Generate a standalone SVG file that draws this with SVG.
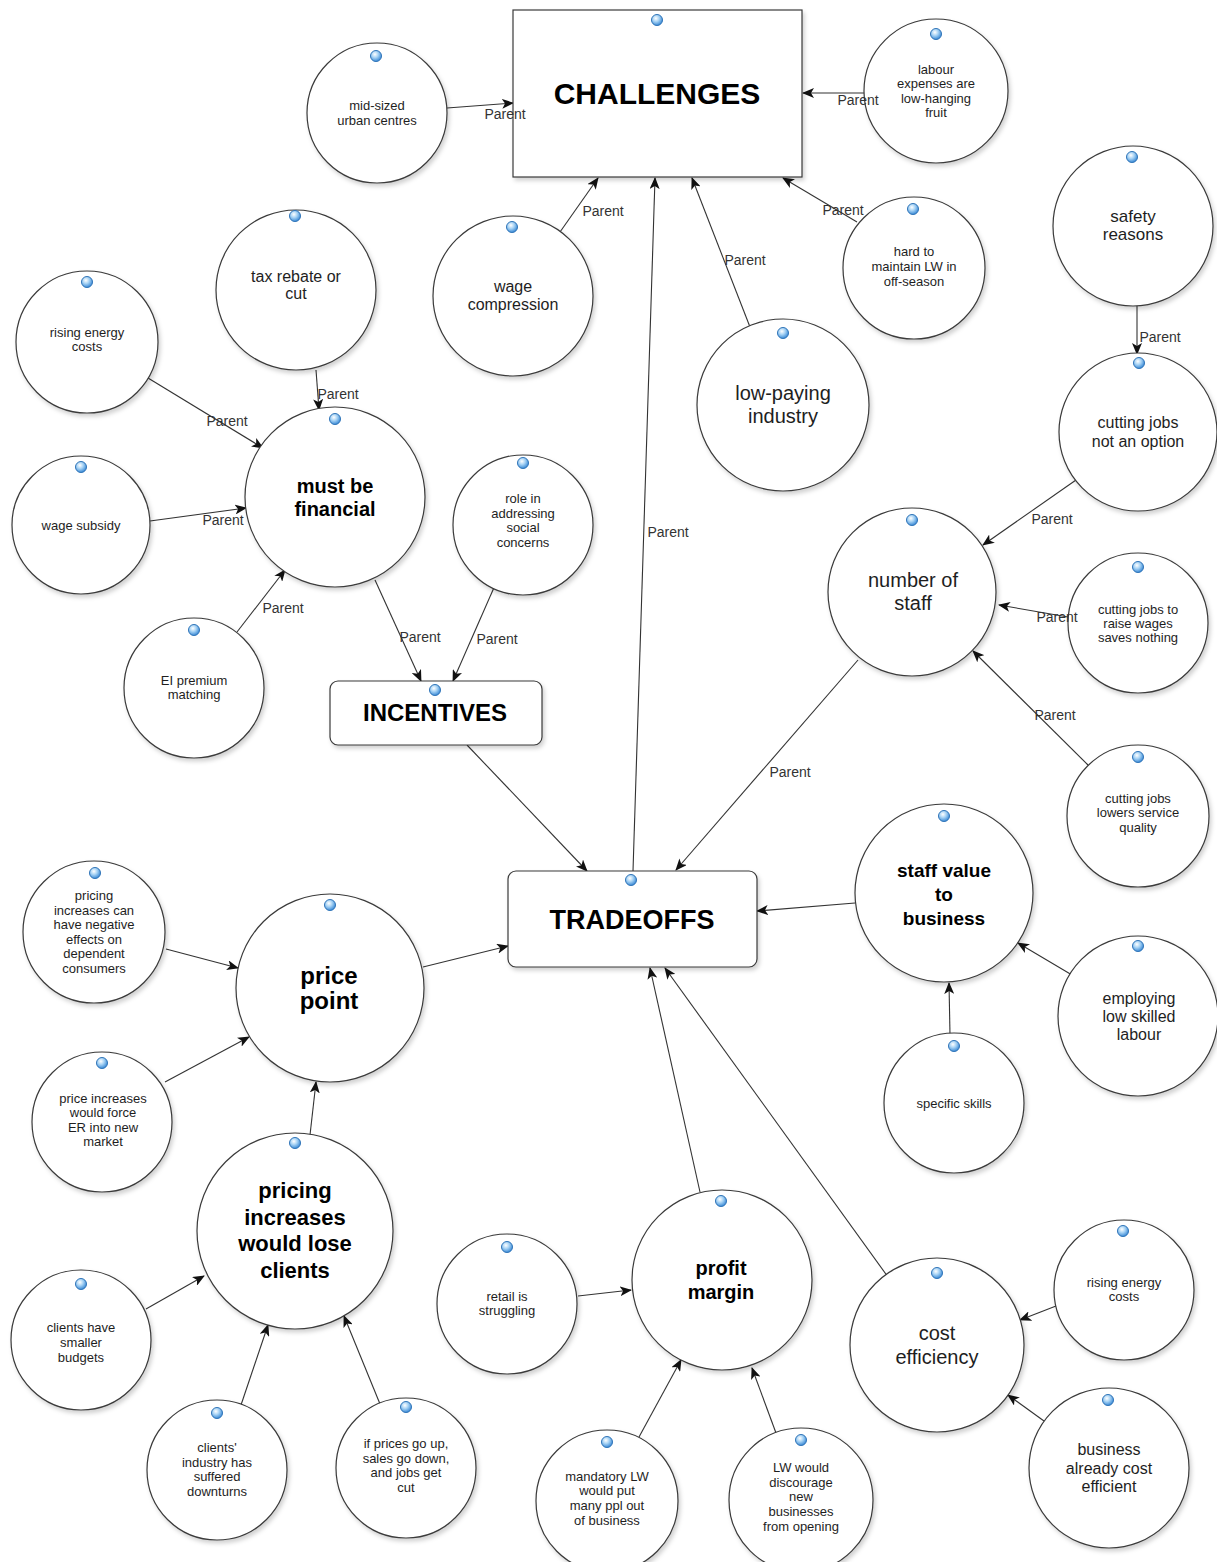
<svg xmlns="http://www.w3.org/2000/svg" width="1217" height="1562" viewBox="0 0 1217 1562">
<defs>
<style>
.n{fill:#fff;stroke:#3a3a3a;stroke-width:1.2;filter:url(#sh)}
.t{font-family:"Liberation Sans",Arial,sans-serif;fill:#1e1e1e;text-anchor:middle}
.s{font-size:13px}
.m{font-size:16px}
.l{font-size:20px}
.b{font-weight:bold;fill:#000}
.e{stroke:#333;stroke-width:1.1;fill:none;marker-end:url(#a)}
.p{font-family:"Liberation Sans",Arial,sans-serif;font-size:14px;fill:#333;text-anchor:middle}
.d{fill:url(#g);stroke:#2f74b8;stroke-width:1}
</style>
<filter id="sh" x="-10%" y="-10%" width="125%" height="125%">
<feDropShadow dx="2" dy="3" stdDeviation="2" flood-color="#000" flood-opacity="0.18"/>
</filter>
<radialGradient id="g" cx="0.4" cy="0.35" r="0.65">
<stop offset="0" stop-color="#ffffff"/>
<stop offset="0.45" stop-color="#a9d4f5"/>
<stop offset="1" stop-color="#3b8ad6"/>
</radialGradient>
<marker id="a" viewBox="0 0 12 10" refX="11" refY="5" markerWidth="12" markerHeight="10" markerUnits="userSpaceOnUse" orient="auto">
<path d="M0,0 L12,5 L0,10 L3,5 z" fill="#111"/>
</marker>
</defs>
<rect width="1217" height="1562" fill="#fff"/>

<g id="connectors">
<line class="e" x1="447" y1="108" x2="513" y2="103"/>
<line class="e" x1="864" y1="93" x2="803" y2="93"/>
<line class="e" x1="857" y1="222" x2="783" y2="178"/>
<line class="e" x1="560" y1="232" x2="598" y2="178"/>
<line class="e" x1="750" y1="327" x2="692" y2="178"/>
<line class="e" x1="633" y1="871" x2="655" y2="178"/>
<line class="e" x1="316" y1="370" x2="319" y2="410"/>
<line class="e" x1="148" y1="378" x2="263" y2="448"/>
<line class="e" x1="150" y1="521" x2="246" y2="508"/>
<line class="e" x1="237" y1="632" x2="285" y2="570"/>
<line class="e" x1="375" y1="580" x2="421" y2="681"/>
<line class="e" x1="496" y1="583" x2="453" y2="681"/>
<line class="e" x1="467" y1="745" x2="587" y2="871"/>
<line class="e" x1="1137" y1="304" x2="1137" y2="354"/>
<line class="e" x1="1076" y1="480" x2="983" y2="545"/>
<line class="e" x1="1068" y1="617" x2="999" y2="605"/>
<line class="e" x1="1088" y1="765" x2="973" y2="651"/>
<line class="e" x1="858" y1="660" x2="676" y2="870"/>
<line class="e" x1="855" y1="903" x2="757" y2="911"/>
<line class="e" x1="1072" y1="975" x2="1018" y2="943"/>
<line class="e" x1="950" y1="1035" x2="949" y2="983"/>
<line class="e" x1="166" y1="949" x2="238" y2="968"/>
<line class="e" x1="165" y1="1082" x2="249" y2="1037"/>
<line class="e" x1="310" y1="1135" x2="316" y2="1082"/>
<line class="e" x1="423" y1="967" x2="508" y2="946"/>
<line class="e" x1="146" y1="1309" x2="204" y2="1276"/>
<line class="e" x1="241" y1="1405" x2="268" y2="1325"/>
<line class="e" x1="380" y1="1404" x2="344" y2="1316"/>
<line class="e" x1="700" y1="1192" x2="650" y2="968"/>
<line class="e" x1="578" y1="1296" x2="631" y2="1290"/>
<line class="e" x1="639" y1="1437" x2="681" y2="1360"/>
<line class="e" x1="776" y1="1433" x2="752" y2="1368"/>
<line class="e" x1="888" y1="1277" x2="665" y2="968"/>
<line class="e" x1="1056" y1="1306" x2="1020" y2="1320"/>
<line class="e" x1="1044" y1="1421" x2="1008" y2="1395"/>
</g>

<g id="n-challenges"><rect class="n" x="513" y="10" width="289" height="167"/><text class="t b" x="657" y="104" font-size="30">CHALLENGES</text><circle class="d" cx="657" cy="20" r="5.5"/></g>
<g id="n-midsized"><circle class="n" cx="377" cy="113" r="70"/><text class="t s"><tspan x="377" y="109.5">mid-sized</tspan><tspan x="377" y="124.5">urban centres</tspan></text><circle class="d" cx="376" cy="56" r="5.5"/></g>
<g id="n-labour"><circle class="n" cx="936" cy="91" r="72"/><text class="t s"><tspan x="936" y="73.5">labour</tspan><tspan x="936" y="88">expenses are</tspan><tspan x="936" y="102.5">low-hanging</tspan><tspan x="936" y="117">fruit</tspan></text><circle class="d" cx="936" cy="34" r="5.5"/></g>
<g id="n-hard"><circle class="n" cx="914" cy="268" r="71"/><text class="t s"><tspan x="914" y="255.5">hard to</tspan><tspan x="914" y="270.5">maintain LW in</tspan><tspan x="914" y="285.5">off-season</tspan></text><circle class="d" cx="913" cy="209" r="5.5"/></g>
<g id="n-safety"><circle class="n" cx="1133" cy="226" r="80"/><text class="t" font-size="17"><tspan x="1133" y="222">safety</tspan><tspan x="1133" y="240">reasons</tspan></text><circle class="d" cx="1132" cy="157" r="5.5"/></g>
<g id="n-wage-compression"><circle class="n" cx="513" cy="296" r="80"/><text class="t m"><tspan x="513" y="292">wage</tspan><tspan x="513" y="310">compression</tspan></text><circle class="d" cx="512" cy="227" r="5.5"/></g>
<g id="n-lowpaying"><circle class="n" cx="783" cy="405" r="86"/><text class="t l"><tspan x="783" y="400">low-paying</tspan><tspan x="783" y="423">industry</tspan></text><circle class="d" cx="783" cy="333" r="5.5"/></g>
<g id="n-tax"><circle class="n" cx="296" cy="290" r="80"/><text class="t m"><tspan x="296" y="282">tax rebate or</tspan><tspan x="296" y="299">cut</tspan></text><circle class="d" cx="295" cy="216" r="5.5"/></g>
<g id="n-energy1"><circle class="n" cx="87" cy="342" r="71"/><text class="t s"><tspan x="87" y="336.5">rising energy</tspan><tspan x="87" y="350.5">costs</tspan></text><circle class="d" cx="87" cy="282" r="5.5"/></g>
<g id="n-financial"><circle class="n" cx="335" cy="497" r="90"/><text class="t l b"><tspan x="335" y="493">must be</tspan><tspan x="335" y="516">financial</tspan></text><circle class="d" cx="335" cy="419" r="5.5"/></g>
<g id="n-subsidy"><circle class="n" cx="81" cy="525" r="69"/><text class="t s" x="81" y="529.5">wage subsidy</text><circle class="d" cx="81" cy="467" r="5.5"/></g>
<g id="n-role"><circle class="n" cx="523" cy="525" r="70"/><text class="t s"><tspan x="523" y="502.5">role in</tspan><tspan x="523" y="517.5">addressing</tspan><tspan x="523" y="531.5">social</tspan><tspan x="523" y="546.5">concerns</tspan></text><circle class="d" cx="523" cy="463" r="5.5"/></g>
<g id="n-ei"><circle class="n" cx="194" cy="688" r="70"/><text class="t s"><tspan x="194" y="684.5">EI premium</tspan><tspan x="194" y="698.5">matching</tspan></text><circle class="d" cx="194" cy="630" r="5.5"/></g>
<g id="n-incentives"><rect class="n" x="330" y="681" width="212" height="64" rx="8"/><text class="t b" x="435" y="720.5" font-size="24">INCENTIVES</text><circle class="d" cx="435" cy="690" r="5.5"/></g>
<g id="n-notoption"><circle class="n" cx="1138" cy="432" r="79"/><text class="t m"><tspan x="1138" y="428">cutting jobs</tspan><tspan x="1138" y="447">not an option</tspan></text><circle class="d" cx="1139" cy="363" r="5.5"/></g>
<g id="n-numstaff"><circle class="n" cx="912" cy="592" r="84"/><text class="t l"><tspan x="913" y="587">number of</tspan><tspan x="913" y="610">staff</tspan></text><circle class="d" cx="912" cy="520" r="5.5"/></g>
<g id="n-savesnothing"><circle class="n" cx="1138" cy="623" r="70"/><text class="t s"><tspan x="1138" y="613.5">cutting jobs to</tspan><tspan x="1138" y="627.5">raise wages</tspan><tspan x="1138" y="641.5">saves nothing</tspan></text><circle class="d" cx="1138" cy="567" r="5.5"/></g>
<g id="n-quality"><circle class="n" cx="1138" cy="816" r="71"/><text class="t s"><tspan x="1138" y="802.5">cutting jobs</tspan><tspan x="1138" y="816.5">lowers service</tspan><tspan x="1138" y="831.5">quality</tspan></text><circle class="d" cx="1138" cy="757" r="5.5"/></g>
<g id="n-staffvalue"><circle class="n" cx="944" cy="893" r="89"/><text class="t b" font-size="19"><tspan x="944" y="877">staff value</tspan><tspan x="944" y="901">to</tspan><tspan x="944" y="925">business</tspan></text><circle class="d" cx="944" cy="816" r="5.5"/></g>
<g id="n-tradeoffs"><rect class="n" x="508" y="871" width="249" height="96" rx="8"/><text class="t b" x="632" y="928.5" font-size="27">TRADEOFFS</text><circle class="d" cx="631" cy="880" r="5.5"/></g>
<g id="n-negative"><circle class="n" cx="94" cy="932" r="71"/><text class="t s"><tspan x="94" y="899.5">pricing</tspan><tspan x="94" y="914.5">increases can</tspan><tspan x="94" y="928.5">have negative</tspan><tspan x="94" y="943.5">effects on</tspan><tspan x="94" y="957.5">dependent</tspan><tspan x="94" y="972.5">consumers</tspan></text><circle class="d" cx="95" cy="873" r="5.5"/></g>
<g id="n-pricepoint"><circle class="n" cx="330" cy="988" r="94"/><text class="t b" font-size="24"><tspan x="329" y="983.5">price</tspan><tspan x="329" y="1008.5">point</tspan></text><circle class="d" cx="330" cy="905" r="5.5"/></g>
<g id="n-force"><circle class="n" cx="102" cy="1122" r="70"/><text class="t s"><tspan x="103" y="1102.5">price increases</tspan><tspan x="103" y="1116.5">would force</tspan><tspan x="103" y="1131.5">ER into new</tspan><tspan x="103" y="1145.5">market</tspan></text><circle class="d" cx="102" cy="1063" r="5.5"/></g>
<g id="n-loseclients"><circle class="n" cx="295" cy="1231" r="98"/><text class="t b" font-size="22"><tspan x="295" y="1198">pricing</tspan><tspan x="295" y="1225">increases</tspan><tspan x="295" y="1251">would lose</tspan><tspan x="295" y="1278">clients</tspan></text><circle class="d" cx="295" cy="1143" r="5.5"/></g>
<g id="n-lowskilled"><circle class="n" cx="1138" cy="1016" r="80"/><text class="t m"><tspan x="1139" y="1004">employing</tspan><tspan x="1139" y="1022">low skilled</tspan><tspan x="1139" y="1040">labour</tspan></text><circle class="d" cx="1138" cy="946" r="5.5"/></g>
<g id="n-specific"><circle class="n" cx="954" cy="1103" r="70"/><text class="t s" x="954" y="1107.5">specific skills</text><circle class="d" cx="954" cy="1046" r="5.5"/></g>
<g id="n-budgets"><circle class="n" cx="81" cy="1340" r="70"/><text class="t s"><tspan x="81" y="1331.5">clients have</tspan><tspan x="81" y="1346.5">smaller</tspan><tspan x="81" y="1361.5">budgets</tspan></text><circle class="d" cx="81" cy="1284" r="5.5"/></g>
<g id="n-downturns"><circle class="n" cx="217" cy="1470" r="70"/><text class="t s"><tspan x="217" y="1451.5">clients'</tspan><tspan x="217" y="1466.5">industry has</tspan><tspan x="217" y="1480.5">suffered</tspan><tspan x="217" y="1495.5">downturns</tspan></text><circle class="d" cx="217" cy="1413" r="5.5"/></g>
<g id="n-salesdown"><circle class="n" cx="406" cy="1468" r="70"/><text class="t s"><tspan x="406" y="1447.5">if prices go up,</tspan><tspan x="406" y="1462.5">sales go down,</tspan><tspan x="406" y="1476.5">and jobs get</tspan><tspan x="406" y="1491.5">cut</tspan></text><circle class="d" cx="406" cy="1407" r="5.5"/></g>
<g id="n-retail"><circle class="n" cx="507" cy="1304" r="70"/><text class="t s"><tspan x="507" y="1300.5">retail is</tspan><tspan x="507" y="1314.5">struggling</tspan></text><circle class="d" cx="507" cy="1247" r="5.5"/></g>
<g id="n-profit"><circle class="n" cx="722" cy="1280" r="90"/><text class="t l b"><tspan x="721" y="1275">profit</tspan><tspan x="721" y="1299">margin</tspan></text><circle class="d" cx="721" cy="1201" r="5.5"/></g>
<g id="n-mandatory"><circle class="n" cx="607" cy="1501" r="71"/><text class="t s"><tspan x="607" y="1480.5">mandatory LW</tspan><tspan x="607" y="1494.5">would put</tspan><tspan x="607" y="1509.5">many ppl out</tspan><tspan x="607" y="1524.5">of business</tspan></text><circle class="d" cx="607" cy="1442" r="5.5"/></g>
<g id="n-discourage"><circle class="n" cx="801" cy="1500" r="72"/><text class="t s"><tspan x="801" y="1471.5">LW would</tspan><tspan x="801" y="1486.5">discourage</tspan><tspan x="801" y="1500.5">new</tspan><tspan x="801" y="1515.5">businesses</tspan><tspan x="801" y="1530.5">from opening</tspan></text><circle class="d" cx="801" cy="1440" r="5.5"/></g>
<g id="n-costeff"><circle class="n" cx="937" cy="1345" r="87"/><text class="t l"><tspan x="937" y="1340">cost</tspan><tspan x="937" y="1364">efficiency</tspan></text><circle class="d" cx="937" cy="1273" r="5.5"/></g>
<g id="n-energy2"><circle class="n" cx="1124" cy="1290" r="70"/><text class="t s"><tspan x="1124" y="1286.5">rising energy</tspan><tspan x="1124" y="1300.5">costs</tspan></text><circle class="d" cx="1123" cy="1231" r="5.5"/></g>
<g id="n-already"><circle class="n" cx="1109" cy="1468" r="80"/><text class="t m"><tspan x="1109" y="1455">business</tspan><tspan x="1109" y="1474">already cost</tspan><tspan x="1109" y="1492">efficient</tspan></text><circle class="d" cx="1108" cy="1400" r="5.5"/></g>

<g id="labels">
<text class="p" x="505" y="119">Parent</text>
<text class="p" x="858" y="105">Parent</text>
<text class="p" x="843" y="215">Parent</text>
<text class="p" x="603" y="216">Parent</text>
<text class="p" x="745" y="265">Parent</text>
<text class="p" x="668" y="537">Parent</text>
<text class="p" x="338" y="399">Parent</text>
<text class="p" x="227" y="426">Parent</text>
<text class="p" x="223" y="525">Parent</text>
<text class="p" x="283" y="613">Parent</text>
<text class="p" x="420" y="642">Parent</text>
<text class="p" x="497" y="644">Parent</text>
<text class="p" x="1160" y="342">Parent</text>
<text class="p" x="1052" y="524">Parent</text>
<text class="p" x="1057" y="622">Parent</text>
<text class="p" x="1055" y="720">Parent</text>
<text class="p" x="790" y="777">Parent</text>
</g>
</svg>
